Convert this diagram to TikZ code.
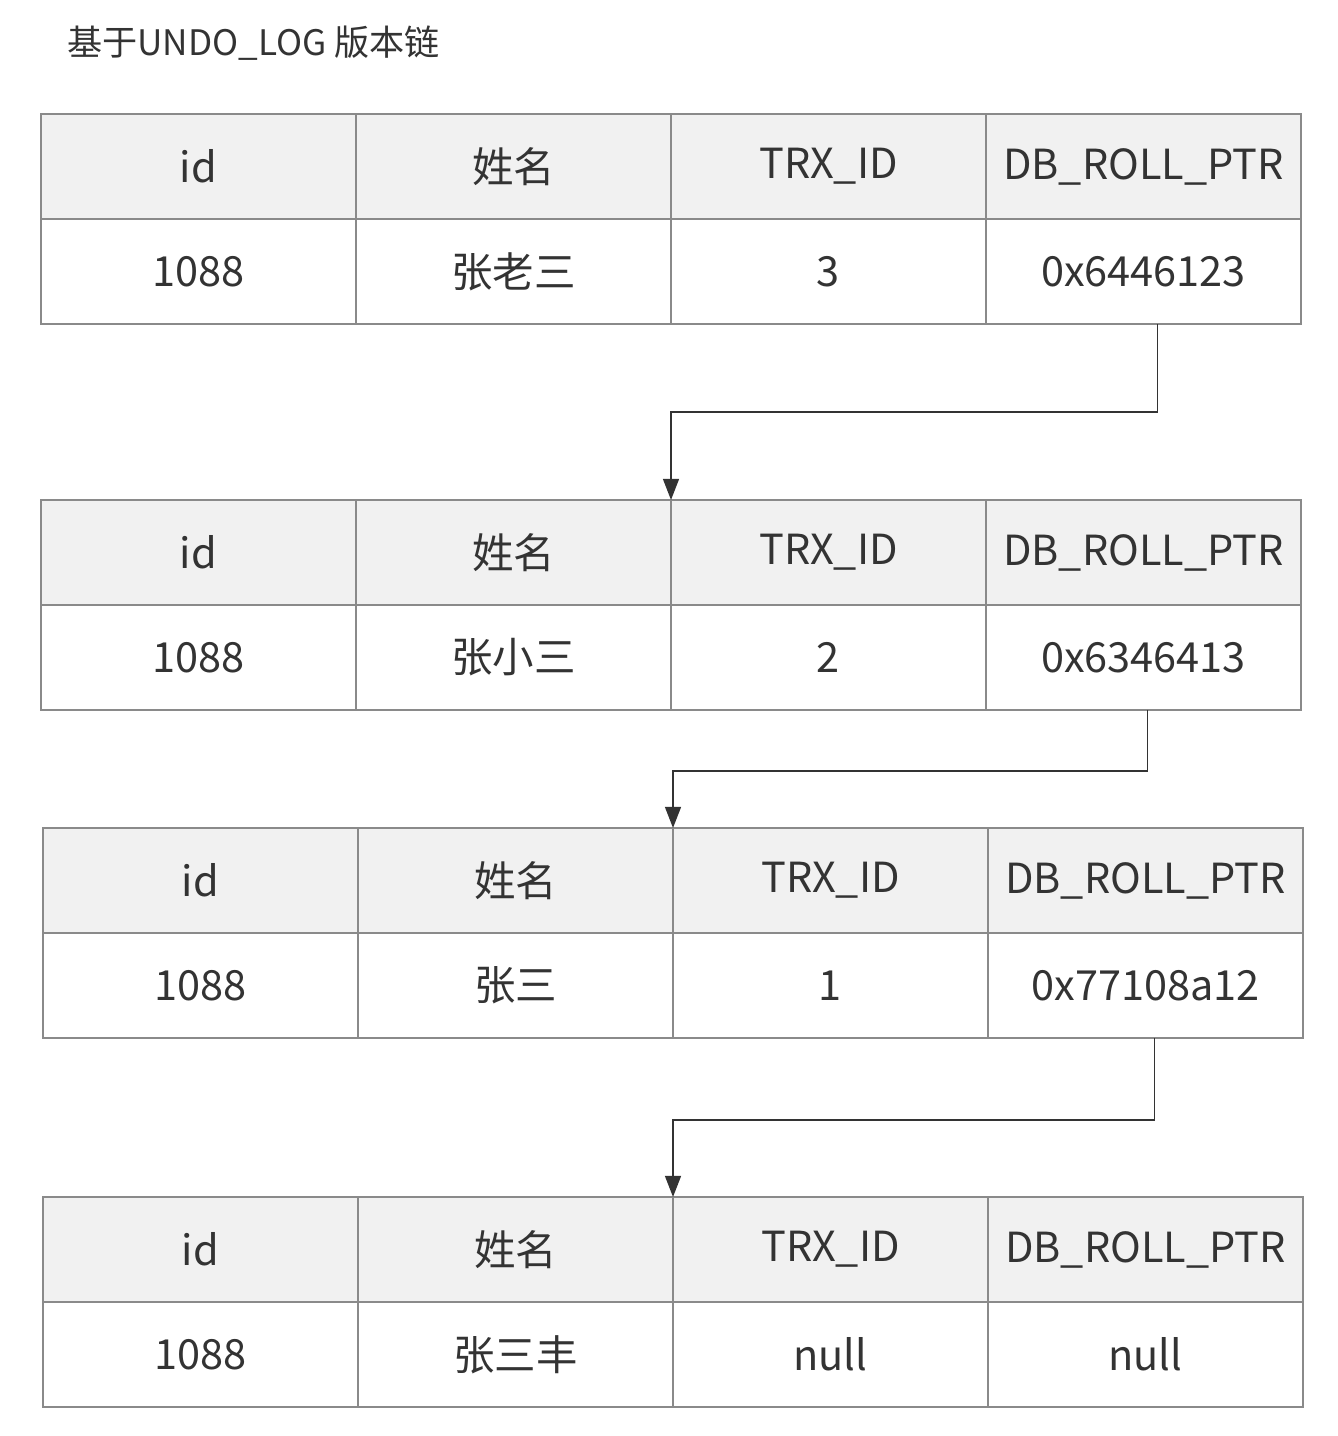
\documentclass[tikz,border=0pt]{standalone}
\usepackage{fontspec}
\setmainfont{Noto Sans CJK SC}
\usepackage{xcolor}
\usepackage{tikz}
\usetikzlibrary{arrows.meta}
\definecolor{GrisBorde}{HTML}{8A8A8A}
\definecolor{GrisCabecera}{HTML}{F1F1F1}
\definecolor{TextoOscuro}{HTML}{333333}

\tikzset{
  celda/.style={draw=GrisBorde,line width=1.2pt,rectangle,anchor=north west,
    minimum width=6.3cm,minimum height=2.1cm,inner sep=0pt,outer sep=0pt,
    text=TextoOscuro,font=\fontsize{23.6}{28}\selectfont},
  cabecera/.style={celda,fill=GrisCabecera},
  valor/.style={celda,fill=white},
  enlace/.style={-{Triangle[length=12pt,width=9pt]},line width=1.1pt,TextoOscuro}
}

% una version del registro: cabecera + fila de valores
\newcommand{\versionundo}[7]{%
  \node[cabecera] (#1-h1) at (#2,#3) {id};
  \node[cabecera] (#1-h2) at (#2+315,#3) {姓名};
  \node[cabecera] (#1-h3) at (#2+630,#3) {TRX\_ID};
  \node[cabecera] (#1-h4) at (#2+945,#3) {DB\_ROLL\_PTR};
  \node[valor] (#1-v1) at (#2,#3+105) {#4};
  \node[valor] (#1-v2) at (#2+315,#3+105) {#5};
  \node[valor] (#1-v3) at (#2+630,#3+105) {#6};
  \node[valor] (#1-v4) at (#2+945,#3+105) {#7};
}

\begin{document}
\begin{tikzpicture}[x=0.02cm,y=-0.02cm]
  \useasboundingbox[fill=white] (0,0) rectangle (1338,1436);
  \node[anchor=west,text=TextoOscuro,font=\fontsize{20}{24}\selectfont] (titulo) at (61,43) {基于UNDO\_LOG 版本链};

  \versionundo{v3}{41}{114}{1088}{张老三}{3}{0x6446123}
  \versionundo{v2}{41}{500}{1088}{张小三}{2}{0x6346413}
  \versionundo{v1}{43}{828}{1088}{张三}{1}{0x77108a12}
  \versionundo{v0}{43}{1197}{1088}{张三丰}{null}{null}

  \draw[enlace] ([xshift=0.28cm]v3-v4.south) -- ++(0,88) -| (v2-h3.north west);
  \draw[enlace] ([xshift=0.08cm]v2-v4.south) -- ++(0,61) -| (v1-h3.north west);
  \draw[enlace] ([xshift=0.18cm]v1-v4.south) -- ++(0,82) -| (v0-h3.north west);
\end{tikzpicture}
\end{document}
